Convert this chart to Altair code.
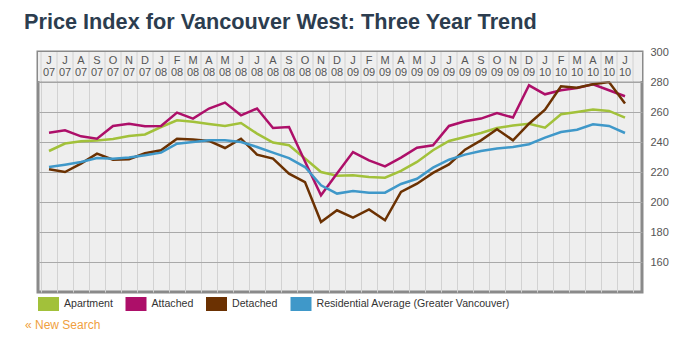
import altair as alt
import pandas as pd

# ---- data ----
month_letters = ["J", "J", "A", "S", "O", "N", "D",
                 "J", "F", "M", "A", "M", "J", "J", "A", "S", "O", "N", "D",
                 "J", "F", "M", "A", "M", "J", "J", "A", "S", "O", "N", "D",
                 "J", "F", "M", "A", "M", "J"]
years = ["07"] * 7 + ["08"] * 12 + ["09"] * 12 + ["10"] * 6

apartment = [234, 239, 240.5, 241, 242, 244, 245, 250, 254.5, 253.5, 252, 250.7,
             252.7, 245.6, 239.6, 237.8, 229, 220, 217.5, 217.8, 216.7, 216.2,
             220.7, 226.7, 234.5, 240.7, 243.3, 246, 249.3, 251, 252.2, 249.6,
             258.5, 260, 261.6, 260.7, 256.3]
attached = [246.2, 247.8, 243.8, 242.2, 250.7, 252.2, 250.5, 250.7, 259.6, 255.6,
            262.3, 266.3, 257.8, 262.3, 249.3, 250, 227, 204.5, 219, 233.3, 227.8,
            223.8, 229.6, 236.2, 237.8, 250.7, 253.8, 255.6, 259.3, 256.3, 277.8,
            271.8, 274.5, 276, 278.5, 274.5, 270.5]
detached = [221.8, 220, 225.6, 232.2, 228.2, 228.5, 232.5, 234.5, 242.2, 241.6,
            240.7, 236, 242.2, 231.6, 228.9, 218.9, 213.3, 186.7, 194.5, 189.6, 195,
            187.8, 206.7, 212.2, 219.4, 225.1, 234.9, 241.1, 248.5, 241.1, 252.2,
            261.6, 277.1, 276.2, 278.5, 280, 265.6]
residential = [223.3, 224.9, 226.7, 229.3, 228.9, 229.6, 231.1, 232.9, 238.9, 240,
               241.1, 241.1, 240, 236.7, 232.9, 229.3, 223.3, 211.1, 205.6, 207.3,
               206.2, 206.2, 212, 215.5, 222.9, 228.2, 231.6, 234, 235.6, 236.7,
               238.5, 242.9, 246.7, 248.2, 251.8, 250.7, 246]

series_names = ["Apartment", "Attached", "Detached",
                "Residential Average (Greater Vancouver)"]
series_colors = ["#a2c13a", "#ad0f69", "#6b3102", "#3f98c9"]
y_ticks = [160, 180, 200, 220, 240, 260, 280, 300]
title_text = "Price Index for Vancouver West: Three Year Trend"
link_text = "« New Search"

# ---- tables ----
n = len(month_letters)
rows = []
for name, vals in zip(series_names, [apartment, attached, detached, residential]):
    for i, v in enumerate(vals):
        rows.append({"idx": i, "series": name, "value": v})
df = pd.DataFrame(rows)
months_df = pd.DataFrame({"idx": list(range(n)), "m": month_letters, "yr": years})
bounds_df = pd.DataFrame({"b": [i - 0.5 for i in range(n + 1)]})

W, H = 604, 240
x_scale = alt.Scale(domain=[-0.6875, 37.0625], nice=False, zero=False)
y_scale = alt.Scale(domain=[140, 300], nice=False, zero=False)
FONT = "Liberation Sans"

x_axis = alt.Axis(values=[i - 0.5 for i in range(n + 1)], labels=False, ticks=False,
                  domain=False, title=None, grid=True, gridColor="#d2d2d2")
y_axis = alt.Axis(orient="right", values=y_ticks, grid=True, gridColor="#a9a9a9",
                  ticks=False, tickSize=0, domain=False, labelPadding=8, title=None,
                  labelOverlap=False, labelColor="#555555", labelFontSize=11,
                  labelFont=FONT)


def ydat(v):
    return alt.YDatum(v, scale=y_scale, axis=y_axis)


base_lines = alt.Chart(df).mark_line(strokeWidth=2.5, clip=False).encode(
    x=alt.X("idx:Q", scale=x_scale, axis=x_axis),
    y=alt.Y("value:Q", scale=y_scale, axis=y_axis),
    color=alt.Color("series:N",
                    scale=alt.Scale(domain=series_names, range=series_colors),
                    sort=series_names,
                    legend=alt.Legend(orient="none", legendX=0, legendY=241.5,
                                      direction="horizontal", title=None,
                                      symbolType="M-1,-0.5H1V0.5H-1Z",
                                      symbolSize=196, symbolStrokeWidth=7,
                                      labelFont=FONT, labelFontSize=10.6,
                                      labelColor="#333333", labelOffset=5,
                                      labelLimit=400, columnPadding=1.5, padding=0)),
)

header = alt.Chart(pd.DataFrame({"a": [0]})).mark_rect(color="#efefef").encode(
    x=alt.value(0), x2=alt.value(W),
    y=ydat(300), y2=alt.Y2Datum(280.6),
)
header_rules = alt.Chart(bounds_df).mark_rule(color="#b5b5b5", strokeDash=[1, 1]).encode(
    x=alt.X("b:Q", scale=x_scale, axis=x_axis),
    y=ydat(281), y2=alt.Y2Datum(300),
)
line280 = alt.Chart(pd.DataFrame({"a": [0]})).mark_rule(color="#a0a0a0").encode(
    y=ydat(280), x=alt.value(0), x2=alt.value(W)
)
m_text = alt.Chart(months_df).mark_text(font=FONT, fontSize=11, color="#555555",
                                        baseline="middle").encode(
    x=alt.X("idx:Q", scale=x_scale, axis=x_axis), y=ydat(294.2), text="m:N")
y_text = alt.Chart(months_df).mark_text(font=FONT, fontSize=11, color="#555555",
                                        baseline="middle").encode(
    x=alt.X("idx:Q", scale=x_scale, axis=x_axis), y=ydat(285.8), text="yr:N")

title = alt.Chart(pd.DataFrame({"t": [title_text]})).mark_text(
    font=FONT, fontSize=21.7, fontWeight="bold", color="#2c3d4f",
    align="left", baseline="alphabetic").encode(
    x=alt.value(-14), y=alt.value(-23), text="t:N")
link = alt.Chart(pd.DataFrame({"t": [link_text]})).mark_text(
    font=FONT, fontSize=12, color="#f0a040", align="left", baseline="middle").encode(
    x=alt.value(-13), y=alt.value(273), text="t:N")

chart = alt.layer(base_lines, header, header_rules, line280, m_text, y_text,
                  title, link)

chart = chart.properties(
    width=W, height=H,
    autosize=alt.AutoSizeParams(type="none"),
    padding={"left": 30, "top": 44, "right": 47, "bottom": 61},
).configure_view(
    stroke="#8a8a8a", strokeWidth=3, fill="#eeeeee"
)

chart.save("out.html", embed_options={"renderer": "svg", "actions": False})
